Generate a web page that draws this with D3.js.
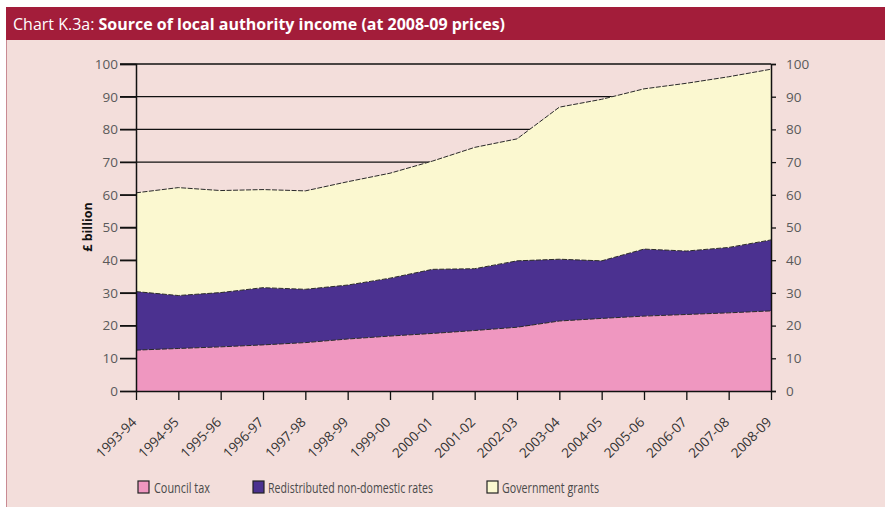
<!DOCTYPE html>
<html>
<head>
<meta charset="utf-8">
<script src="https://cdnjs.cloudflare.com/ajax/libs/d3/7.8.5/d3.min.js"></script>
<style>
  html, body { margin: 0; padding: 0; background: #ffffff; }
  svg { display: block; }
</style>
</head>
<body>
<svg id="chart" width="885" height="507"></svg>
<script>
// Financial years on the horizontal axis
const years = ["1993-94","1994-95","1995-96","1996-97","1997-98","1998-99","1999-00",
  "2000-01","2001-02","2002-03","2003-04","2004-05","2005-06","2006-07","2007-08","2008-09"];

// Income by source, £ billion at 2008-09 prices (stacked in this order)
const councilTax = [12.5,13.0,13.5,14.1,14.8,15.9,16.8,17.6,18.5,19.5,21.4,22.2,22.9,23.4,23.9,24.5];
const ndrRates   = [17.9,16.2,16.6,17.5,16.3,16.5,17.7,19.6,18.9,20.3,18.9,17.6,20.5,19.4,20.0,21.7];
const govGrants  = [30.2,33.0,31.2,30.0,30.1,31.6,32.1,33.1,37.1,37.3,46.5,49.4,49.0,51.3,52.2,52.2];

const seriesNames  = ["Council tax","Redistributed non-domestic rates","Government grants"];
const seriesColors = ["#ef97c0","#4b3190","#fbf8d0"];
const yTicks = [0,10,20,30,40,50,60,70,80,90,100];

(function () {
const svg = d3.select("#chart");
const W = 885, H = 507;

// Panel background and title bar
svg.append("rect").attr("x", 6).attr("y", 7).attr("width", W - 6).attr("height", H - 7)
  .attr("fill", "#f3dedb");
svg.append("line").attr("x1", 6.5).attr("x2", 6.5).attr("y1", 40).attr("y2", H)
  .attr("stroke", "#c98b93").attr("stroke-width", 1);
svg.append("rect").attr("x", 6).attr("y", 7).attr("width", W - 6).attr("height", 33)
  .attr("fill", "#a31d3a");

const title = svg.append("text").attr("x", 13).attr("y", 30)
  .attr("font-family", "'Open Sans', 'DejaVu Sans', sans-serif")
  .attr("font-size", 16).attr("fill", "#ffffff")
  .attr("textLength", 492).attr("lengthAdjust", "spacingAndGlyphs");
title.append("tspan").text("Chart K.3a: ");
title.append("tspan").attr("font-weight", "bold").text("Source of local authority income (at 2008-09 prices)");

// Plot area
const plotL = 136, plotR = 771, plotT = 64, plotB = 391;

const x = d3.scalePoint().domain(years).range([plotL, plotR]);
const y = d3.scaleLinear().domain([0, 100]).range([plotB, plotT]);

// Stack the three sources
const rows = years.map((yr, i) => ({
  year: yr,
  [seriesNames[0]]: councilTax[i],
  [seriesNames[1]]: ndrRates[i],
  [seriesNames[2]]: govGrants[i]
}));
const stacked = d3.stack().keys(seriesNames)(rows);

// Horizontal gridlines (sit under the areas)
svg.append("g").selectAll("line").data(yTicks.filter(d => d > 0)).join("line")
  .attr("x1", plotL - 16).attr("x2", plotR)
  .attr("y1", d => y(d)).attr("y2", d => y(d))
  .attr("stroke", "#111").attr("stroke-width", 1.3);

const area = d3.area()
  .x((d, i) => x(years[i]))
  .y0(d => y(d[0]))
  .y1(d => y(d[1]));
const edge = d3.line()
  .x((d, i) => x(years[i]))
  .y(d => y(d[1]));

svg.append("g").selectAll("path").data(stacked).join("path")
  .attr("d", area)
  .attr("fill", (d, i) => seriesColors[i]);
svg.append("g").selectAll("path").data(stacked).join("path")
  .attr("d", edge)
  .attr("fill", "none").attr("stroke", "#2a2a2a").attr("stroke-width", 1)
  .attr("stroke-dasharray", "5,1.5");

// Left axis
const yLeft = d3.axisLeft(y).tickValues(yTicks).tickSize(16).tickPadding(2);
const gl = svg.append("g").attr("transform", `translate(${plotL},0)`).call(yLeft);
gl.select(".domain").attr("stroke", "#111").attr("stroke-width", 1.5);
gl.selectAll(".tick line").attr("stroke", "#111").attr("stroke-width", 1.3);
gl.selectAll(".tick text").attr("fill", "#5a5a5a").attr("font-size", 13.5)
  .attr("font-family", "'Open Sans', 'DejaVu Sans', sans-serif");

// Right axis
const yRight = d3.axisRight(y).tickValues(yTicks).tickSize(5).tickPadding(10);
const gr = svg.append("g").attr("transform", `translate(${plotR},0)`).call(yRight);
gr.select(".domain").attr("stroke", "#111").attr("stroke-width", 1.5);
gr.selectAll(".tick line").attr("stroke", "#111").attr("stroke-width", 1.3);
gr.selectAll(".tick text").attr("fill", "#5a5a5a").attr("font-size", 13.5)
  .attr("font-family", "'Open Sans', 'DejaVu Sans', sans-serif");

// Bottom axis with slanted year labels
const xAxis = d3.axisBottom(x).tickSize(9).tickSizeOuter(0);
const gx = svg.append("g").attr("transform", `translate(0,${plotB})`).call(xAxis);
gx.select(".domain").attr("stroke", "#111").attr("stroke-width", 1.5);
gx.selectAll(".tick line").attr("stroke", "#111").attr("stroke-width", 1.3);
gx.selectAll(".tick text")
  .attr("fill", "#333").attr("font-size", 13.5)
  .attr("font-family", "'Open Sans', 'DejaVu Sans', sans-serif")
  .attr("text-anchor", "end")
  .attr("dy", null)
  .attr("transform", "translate(1,32) rotate(-45)")
  .attr("y", 0).attr("x", 0);

// Axis title
svg.append("text")
  .attr("transform", `translate(92,227) rotate(-90)`)
  .attr("text-anchor", "middle")
  .attr("font-family", "'Open Sans', 'DejaVu Sans', sans-serif")
  .attr("font-weight", "bold").attr("font-size", 12.5).attr("fill", "#111")
  .text("£ billion");

// Legend
const legendX = [138, 253, 487];
const legendW = [56, 165, 97];
const lg = svg.append("g").selectAll("g").data(seriesNames).join("g")
  .attr("transform", (d, i) => `translate(${legendX[i]},481)`);
lg.append("rect").attr("width", 11).attr("height", 12)
  .attr("fill", (d, i) => seriesColors[i]).attr("stroke", "#222").attr("stroke-width", 1.2);
lg.append("text").attr("x", (d, i) => i === 0 ? 16 : 15).attr("y", 12)
  .attr("font-family", "'Liberation Sans Narrow', 'Open Sans', sans-serif")
  .attr("font-size", 14).attr("fill", "#4a4a4a")
  .attr("textLength", (d, i) => legendW[i]).attr("lengthAdjust", "spacingAndGlyphs")
  .text(d => d);
})();
</script>
</body>
</html>
